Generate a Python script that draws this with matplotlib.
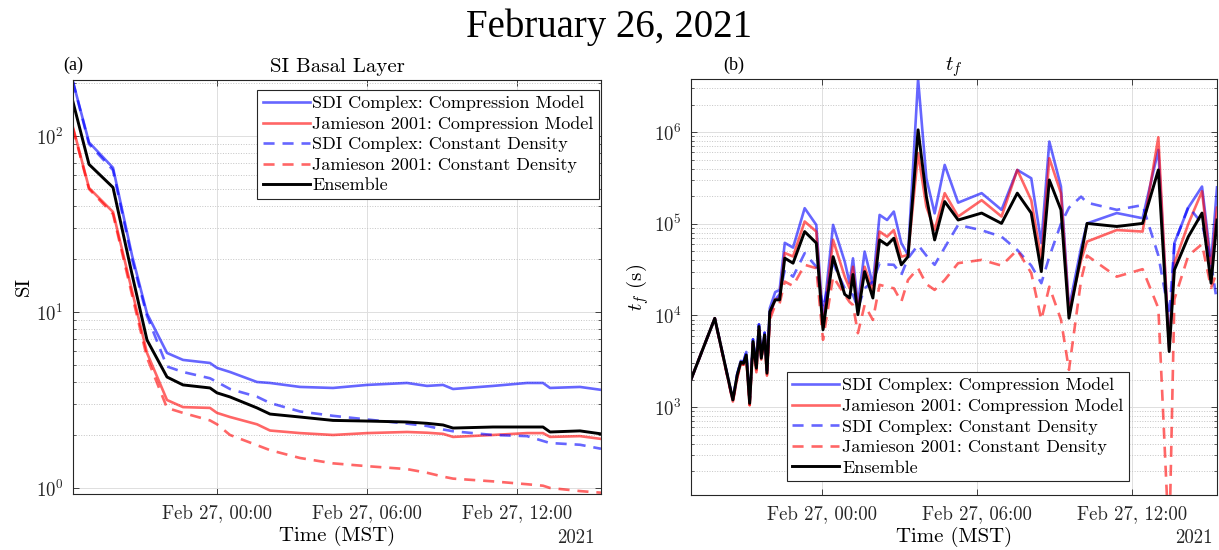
import matplotlib
matplotlib.use("Agg")
import matplotlib.pyplot as plt
import matplotlib.dates as mdates
from matplotlib.ticker import LogLocator, NullFormatter
import pandas as pd

plt.rcParams["font.family"] = "cmr10"
plt.rcParams["mathtext.fontset"] = "cm"
plt.rcParams["axes.formatter.use_mathtext"] = True

BLUE = (0.0, 0.0, 1.0)
RED = (1.0, 0.0, 0.0)
ALPHA = 0.6
EDGE = "#262626"
LABELS = [
    "SDI Complex: Compression Model",
    "Jamieson 2001: Compression Model",
    "SDI Complex: Constant Density",
    "Jamieson 2001: Constant Density",
    "Ensemble",
]

# ---- (a) stability index of the basal layer, hours after Feb 27 00:00 MST ----
si_hours = [-5.76, -5.12, -4.16, -3.40, -2.80, -2.00, -1.36, -0.28, 0.00, 0.52,
            1.60, 2.12, 3.32, 4.64, 6.00, 7.60, 8.40, 9.04, 9.44, 11.04,
            12.40, 13.04, 13.32, 14.52, 15.36]
si_sdi_comp = [203, 92, 66, 21, 9.8, 5.85, 5.34, 5.13, 4.81, 4.56,
               4.0, 3.95, 3.75, 3.70, 3.85, 3.95, 3.80, 3.85, 3.65, 3.80,
               3.95, 3.95, 3.70, 3.75, 3.61]
si_jam_comp = [112, 50.7, 37, 13.2, 5.85, 3.16, 2.88, 2.85, 2.67, 2.53,
               2.30, 2.12, 2.05, 2.00, 2.05, 2.08, 2.06, 2.03, 1.95, 2.00,
               2.05, 2.05, 1.95, 1.97, 1.90]
si_sdi_const = [203, 90, 64, 20, 9.5, 4.9, 4.56, 4.2, 4.0, 3.65,
                3.3, 3.04, 2.72, 2.57, 2.45, 2.32, 2.25, 2.15, 2.10, 2.00,
                1.97, 1.85, 1.80, 1.76, 1.67]
si_jam_const = [110, 50, 36, 12.5, 5.5, 2.85, 2.67, 2.42, 2.30, 2.00,
                1.75, 1.64, 1.48, 1.38, 1.33, 1.28, 1.22, 1.16, 1.13, 1.09,
                1.05, 1.03, 1.00, 0.96, 0.94]
si_ensemble = [156, 69, 51, 16.4, 6.93, 4.27, 3.85, 3.70, 3.47, 3.29,
               2.85, 2.63, 2.53, 2.42, 2.40, 2.37, 2.33, 2.28, 2.19, 2.22,
               2.22, 2.22, 2.08, 2.11, 2.03]

# ---- (b) time to failure t_f (s) ----
tf_hours = [-5.07, -4.15, -3.45, -3.28, -3.14, -3.04, -2.93, -2.80, -2.67, -2.54,
            -2.44, -2.35, -2.22, -2.13, -2.02, -1.81, -1.64, -1.44, -1.12, -0.67,
            -0.22, 0.04, 0.43, 0.88, 1.07, 1.20, 1.39, 1.65, 1.97, 2.23,
            2.52, 2.78, 3.07, 3.33, 3.72, 4.04, 4.36, 4.75, 5.27, 6.18,
            6.95, 7.56, 8.10, 8.49, 8.80, 9.25, 9.56, 10.03, 10.26, 11.41,
            12.41, 13.02, 13.44, 13.64, 14.18, 14.71, 15.06, 15.29]
tf_sdi_comp = [2000, 9300, 1200, 2300, 3200, 3100, 4000, 1150, 5500, 2800,
               8000, 3600, 6500, 2500, 12000, 18000, 19000, 62000, 55000, 148000,
               97300, 8580, 97300, 38700, 22500, 42000, 13000, 49800, 21600, 125000,
               110000, 136000, 61700, 45700, 3.8e6, 314000, 130000, 439000, 170000, 216000,
               142000, 387000, 314000, 61700, 789000, 255000, 12000, 55000, 101000, 131000,
               115000, 640000, 4500, 61700, 150000, 255000, 37200, 250000]
tf_jam_comp = [2000, 9300, 1150, 2100, 3000, 2900, 3500, 1050, 5000, 2400,
               7000, 3300, 5800, 2200, 10000, 15000, 15500, 48000, 44000, 106000,
               82300, 7270, 66700, 26500, 19800, 34000, 11000, 34000, 18200, 82300,
               72400, 85500, 43800, 45700, 590000, 154000, 85500, 216000, 120000, 181000,
               120000, 387000, 181000, 40400, 519000, 216000, 11000, 40000, 64000, 85500,
               82300, 880000, 4200, 37200, 100000, 226000, 31400, 150000]
tf_sdi_const = [2000, 9300, 1200, 2300, 3200, 3100, 4000, 1150, 5500, 2800,
                8000, 3600, 6500, 2500, 10500, 15000, 17000, 31400, 26500, 47800,
                34000, 12000, 37200, 19800, 17500, 16800, 12000, 19800, 23400, 37200,
                36000, 35700, 27700, 42000, 58700, 45000, 35700, 55000, 97300, 85000,
                72400, 51800, 35000, 22500, 43800, 100000, 150000, 198000, 170000, 142000,
                160000, 45000, 10000, 60000, 154000, 101000, 37200, 14000]
tf_jam_const = [2000, 9300, 1150, 2100, 3000, 2900, 3500, 1050, 5000, 2400,
                7000, 3300, 5800, 2200, 9000, 13000, 13500, 23400, 21000, 35700,
                32800, 5420, 26500, 16800, 14000, 13000, 6410, 13000, 8930, 21600,
                20500, 19800, 14100, 24400, 32800, 22000, 19000, 24400, 37200, 40400,
                35000, 51800, 29000, 9000, 20600, 9000, 2550, 24400, 45000, 26500,
                32000, 12000, 30, 15000, 45000, 60000, 20000, 30000]
tf_ensemble = [2000, 9300, 1200, 2250, 3100, 3000, 3700, 1100, 5200, 2660,
               7570, 3420, 6140, 2350, 11000, 14800, 14800, 42200, 37200, 82300,
               61700, 6970, 43800, 17000, 15500, 28000, 10200, 30100, 15500, 66700,
               58700, 69600, 35700, 43800, 1.06e6, 198000, 66700, 175000, 110000, 131000,
               101000, 216000, 131000, 30100, 301000, 142000, 9340, 46000, 101000, 93500,
               101000, 387000, 4040, 31400, 72400, 131000, 22500, 110000]

BASE = pd.Timestamp("2021-02-27 00:00")


def to_times(hours):
    return (BASE + pd.to_timedelta(hours, unit="h")).to_numpy()


def draw_series(ax, t, sdi_comp, jam_comp, sdi_const, jam_const, ens):
    lw = 1.9
    dash = (4.2, 3.0)
    h = []
    h += ax.plot(t, sdi_comp, color=BLUE, alpha=ALPHA, lw=lw)
    h += ax.plot(t, jam_comp, color=RED, alpha=ALPHA, lw=lw)
    h += ax.plot(t, sdi_const, color=BLUE, alpha=ALPHA, lw=lw, dashes=dash)
    h += ax.plot(t, jam_const, color=RED, alpha=ALPHA, lw=lw, dashes=dash)
    h += ax.plot(t, ens, color="black", lw=2.1)
    return h


def style_axes(ax, t):
    ax.set_yscale("log")
    ax.set_xlim(t[0], t[-1])
    ax.xaxis.set_major_locator(mdates.HourLocator(byhour=[0, 6, 12]))
    ax.xaxis.set_major_formatter(mdates.DateFormatter("%b %d, %H:%M"))
    ax.yaxis.set_major_locator(LogLocator(base=10, numticks=12))
    ax.yaxis.set_minor_locator(LogLocator(base=10, subs=range(2, 10), numticks=30))
    ax.yaxis.set_minor_formatter(NullFormatter())
    ax.tick_params(which="both", direction="in", top=True, right=True,
                   colors=EDGE, labelcolor=EDGE)
    ax.tick_params(which="major", length=4, width=0.6, labelsize=13.5, pad=7)
    ax.tick_params(which="minor", length=2.5, width=0.5)
    ax.grid(True, which="major", color="#dedede", lw=0.7)
    ax.grid(True, which="minor", axis="y", color="#c4c4c4", lw=0.7, ls=":")
    ax.set_axisbelow(True)
    for s in ax.spines.values():
        s.set_color(EDGE)
        s.set_linewidth(0.8)
    ax.set_xlabel("Time (MST)", fontsize=15, labelpad=3)


def add_legend(ax, handles, loc, anchor):
    leg = ax.legend(handles, LABELS, loc=loc, bbox_to_anchor=anchor,
                    bbox_transform=fig.transFigure, fontsize=13,
                    handlelength=2.6, handletextpad=0.15, labelspacing=0.27,
                    borderpad=0.3, borderaxespad=0, fancybox=False,
                    edgecolor=EDGE, framealpha=1)
    leg.get_frame().set_linewidth(0.8)
    return leg


W, H = 1219, 550
fig = plt.figure(figsize=(W / 100, H / 100), dpi=100)
ax1 = fig.add_axes([73 / W, 1 - 494 / H, 528 / W, 414 / H])
ax2 = fig.add_axes([691 / W, 1 - 495 / H, 526 / W, 416 / H])

# panel (a)
t1 = to_times(si_hours)
h1 = draw_series(ax1, t1, si_sdi_comp, si_jam_comp, si_sdi_const, si_jam_const, si_ensemble)
style_axes(ax1, t1)
ax1.set_ylim(0.924, 208)
ax1.set_ylabel("SI", fontsize=15, labelpad=2)
ax1.set_title("SI Basal Layer", fontsize=15, pad=6)
ax1.text(1 - 6 / 528, -44 / 414, "2021", transform=ax1.transAxes,
         ha="right", va="center", fontsize=13.5, color=EDGE)
add_legend(ax1, h1, "upper right", (599 / W, 1 - 90 / H))

# panel (b)
t2 = to_times(tf_hours)
h2 = draw_series(ax2, t2, tf_sdi_comp, tf_jam_comp, tf_sdi_const, tf_jam_const, tf_ensemble)
style_axes(ax2, t2)
ax2.set_ylim(110, 3.8e6)
ax2.set_ylabel("$t_f$ (s)", fontsize=15, labelpad=2)
ax2.set_title("$t_f$", fontsize=15, pad=6)
ax2.text(1 - 4 / 526, -43 / 416, "2021", transform=ax2.transAxes,
         ha="right", va="center", fontsize=13.5, color=EDGE)
add_legend(ax2, h2, "lower left", (787 / W, 1 - 481 / H))

fig.text(63 / W, 1 - 65 / H, "(a)", family="Liberation Serif", fontsize=13, va="center")
fig.text(723 / W, 1 - 65 / H, "(b)", family="Liberation Serif", fontsize=13, va="center")
fig.suptitle("February 26, 2021", family="Liberation Serif", fontsize=28, y=1 - 8 / H, va="top")

fig.savefig("out.png", dpi=100)
